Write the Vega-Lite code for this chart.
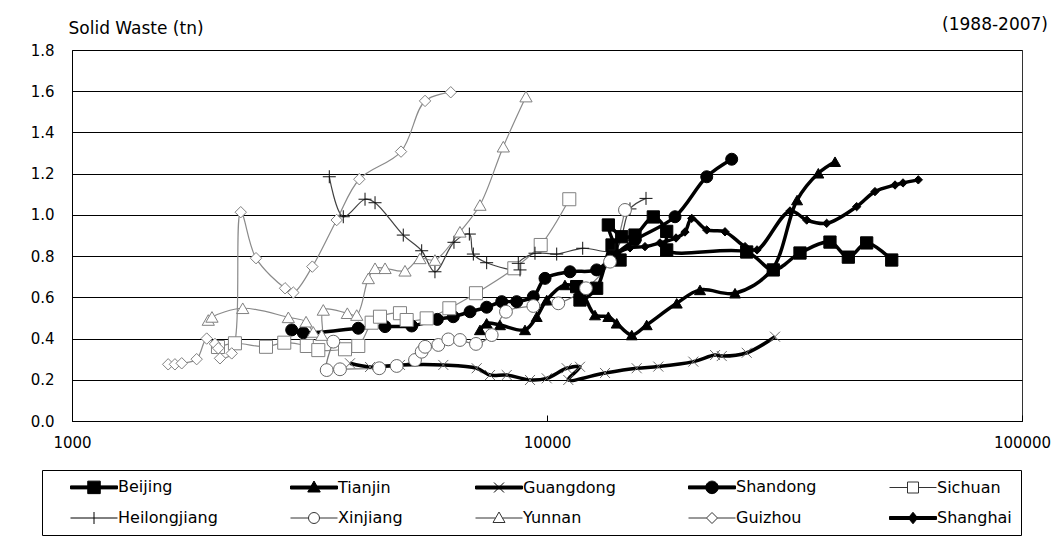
{
  "$schema": "https://vega.github.io/schema/vega-lite/v6.json",
  "width": 950,
  "height": 371,
  "autosize": "none",
  "padding": {"left": 72, "top": 50, "right": 41, "bottom": 115},
  "background": "white",
  "config": {
    "font": "DejaVu Sans",
    "view": {"stroke": "#333", "strokeWidth": 1},
    "axis": {"labelColor": "#000", "titleColor": "#000", "labelFontSize": 15, "titleFontSize": 17, "titleFontWeight": "normal"}
  },
  "title": {"text": "(1988-2007)", "anchor": "end", "frame": "group", "dx": 26, "dy": 15, "offset": 0, "fontSize": 17, "fontWeight": "normal", "color": "#000"},
  "data": {"values": [
    {"s":"Beijing","o":1,"g":11546,"w":0.652},
    {"s":"Beijing","o":2,"g":11734,"w":0.587},
    {"s":"Beijing","o":3,"g":12722,"w":0.644},
    {"s":"Beijing","o":4,"g":13706,"w":0.854},
    {"s":"Beijing","o":5,"g":14250,"w":0.781},
    {"s":"Beijing","o":6,"g":13463,"w":0.951},
    {"s":"Beijing","o":7,"g":14366,"w":0.894},
    {"s":"Beijing","o":8,"g":15320,"w":0.902},
    {"s":"Beijing","o":9,"g":16742,"w":0.99},
    {"s":"Beijing","o":10,"g":17865,"w":0.92},
    {"s":"Beijing","o":11,"g":17865,"w":0.83},
    {"s":"Beijing","o":12,"g":26330,"w":0.82},
    {"s":"Beijing","o":13,"g":29950,"w":0.733},
    {"s":"Beijing","o":14,"g":34090,"w":0.815},
    {"s":"Beijing","o":15,"g":39420,"w":0.868},
    {"s":"Beijing","o":16,"g":43090,"w":0.795},
    {"s":"Beijing","o":17,"g":47100,"w":0.864},
    {"s":"Beijing","o":18,"g":53180,"w":0.781},
    {"s":"Tianjin","o":1,"g":7226,"w":0.442},
    {"s":"Tianjin","o":2,"g":7464,"w":0.474},
    {"s":"Tianjin","o":3,"g":7961,"w":0.466},
    {"s":"Tianjin","o":4,"g":8989,"w":0.442},
    {"s":"Tianjin","o":5,"g":9513,"w":0.506},
    {"s":"Tianjin","o":6,"g":9986,"w":0.587},
    {"s":"Tianjin","o":7,"g":10910,"w":0.66},
    {"s":"Tianjin","o":8,"g":11734,"w":0.636},
    {"s":"Tianjin","o":9,"g":12620,"w":0.514},
    {"s":"Tianjin","o":10,"g":13463,"w":0.506},
    {"s":"Tianjin","o":11,"g":14022,"w":0.474},
    {"s":"Tianjin","o":12,"g":15082,"w":0.417},
    {"s":"Tianjin","o":13,"g":16214,"w":0.466},
    {"s":"Tianjin","o":14,"g":18755,"w":0.571},
    {"s":"Tianjin","o":15,"g":20995,"w":0.636},
    {"s":"Tianjin","o":16,"g":24880,"w":0.62},
    {"s":"Tianjin","o":17,"g":29720,"w":0.733},
    {"s":"Tianjin","o":18,"g":33610,"w":1.072},
    {"s":"Tianjin","o":19,"g":37260,"w":1.202},
    {"s":"Tianjin","o":20,"g":40400,"w":1.258},
    {"s":"Guangdong","o":1,"g":3848,"w":0.28},
    {"s":"Guangdong","o":2,"g":4241,"w":0.262},
    {"s":"Guangdong","o":3,"g":4903,"w":0.272},
    {"s":"Guangdong","o":4,"g":6049,"w":0.272},
    {"s":"Guangdong","o":5,"g":7112,"w":0.256},
    {"s":"Guangdong","o":6,"g":7586,"w":0.223},
    {"s":"Guangdong","o":7,"g":8226,"w":0.223},
    {"s":"Guangdong","o":8,"g":9209,"w":0.199},
    {"s":"Guangdong","o":9,"g":9986,"w":0.207},
    {"s":"Guangdong","o":10,"g":11002,"w":0.256},
    {"s":"Guangdong","o":11,"g":11734,"w":0.263},
    {"s":"Guangdong","o":12,"g":11087,"w":0.199},
    {"s":"Guangdong","o":13,"g":13248,"w":0.233},
    {"s":"Guangdong","o":14,"g":15445,"w":0.256},
    {"s":"Guangdong","o":15,"g":17152,"w":0.264},
    {"s":"Guangdong","o":16,"g":20324,"w":0.288},
    {"s":"Guangdong","o":17,"g":22585,"w":0.32},
    {"s":"Guangdong","o":18,"g":23330,"w":0.315},
    {"s":"Guangdong","o":19,"g":26330,"w":0.331},
    {"s":"Guangdong","o":20,"g":30200,"w":0.409},
    {"s":"Shandong","o":1,"g":2901,"w":0.442},
    {"s":"Shandong","o":2,"g":3069,"w":0.428},
    {"s":"Shandong","o":3,"g":4006,"w":0.45},
    {"s":"Shandong","o":4,"g":4561,"w":0.458},
    {"s":"Shandong","o":5,"g":5190,"w":0.461},
    {"s":"Shandong","o":6,"g":5876,"w":0.493},
    {"s":"Shandong","o":7,"g":6348,"w":0.506},
    {"s":"Shandong","o":8,"g":6887,"w":0.53},
    {"s":"Shandong","o":9,"g":7464,"w":0.552},
    {"s":"Shandong","o":10,"g":8029,"w":0.579},
    {"s":"Shandong","o":11,"g":8634,"w":0.579},
    {"s":"Shandong","o":12,"g":9359,"w":0.603},
    {"s":"Shandong","o":13,"g":9904,"w":0.692},
    {"s":"Shandong","o":14,"g":11180,"w":0.724},
    {"s":"Shandong","o":15,"g":12722,"w":0.733},
    {"s":"Shandong","o":16,"g":13706,"w":0.796},
    {"s":"Shandong","o":17,"g":15320,"w":0.878},
    {"s":"Shandong","o":18,"g":18600,"w":0.991},
    {"s":"Shandong","o":19,"g":21690,"w":1.185},
    {"s":"Shandong","o":20,"g":24480,"w":1.27},
    {"s":"Sichuan","o":1,"g":2029,"w":0.359},
    {"s":"Sichuan","o":2,"g":2203,"w":0.377},
    {"s":"Sichuan","o":3,"g":2561,"w":0.36},
    {"s":"Sichuan","o":4,"g":2798,"w":0.38},
    {"s":"Sichuan","o":5,"g":3121,"w":0.364},
    {"s":"Sichuan","o":6,"g":3300,"w":0.344},
    {"s":"Sichuan","o":7,"g":3756,"w":0.348},
    {"s":"Sichuan","o":8,"g":4006,"w":0.364},
    {"s":"Sichuan","o":9,"g":4274,"w":0.477},
    {"s":"Sichuan","o":10,"g":4450,"w":0.506},
    {"s":"Sichuan","o":11,"g":4903,"w":0.523},
    {"s":"Sichuan","o":12,"g":5065,"w":0.49},
    {"s":"Sichuan","o":13,"g":5581,"w":0.498},
    {"s":"Sichuan","o":14,"g":6229,"w":0.547},
    {"s":"Sichuan","o":15,"g":7087,"w":0.62},
    {"s":"Sichuan","o":16,"g":8535,"w":0.741},
    {"s":"Sichuan","o":17,"g":9699,"w":0.854},
    {"s":"Sichuan","o":18,"g":11141,"w":1.076},
    {"s":"Heilongjiang","o":1,"g":3481,"w":1.185},
    {"s":"Heilongjiang","o":2,"g":3725,"w":0.991},
    {"s":"Heilongjiang","o":3,"g":4139,"w":1.076},
    {"s":"Heilongjiang","o":4,"g":4345,"w":1.059},
    {"s":"Heilongjiang","o":5,"g":4982,"w":0.902},
    {"s":"Heilongjiang","o":6,"g":5447,"w":0.826},
    {"s":"Heilongjiang","o":7,"g":5809,"w":0.724},
    {"s":"Heilongjiang","o":8,"g":6370,"w":0.867},
    {"s":"Heilongjiang","o":9,"g":6863,"w":0.907},
    {"s":"Heilongjiang","o":10,"g":6997,"w":0.81},
    {"s":"Heilongjiang","o":11,"g":7464,"w":0.768},
    {"s":"Heilongjiang","o":12,"g":8774,"w":0.733},
    {"s":"Heilongjiang","o":13,"g":8701,"w":0.765},
    {"s":"Heilongjiang","o":14,"g":9434,"w":0.814},
    {"s":"Heilongjiang","o":15,"g":10481,"w":0.81},
    {"s":"Heilongjiang","o":16,"g":11889,"w":0.838},
    {"s":"Heilongjiang","o":17,"g":13906,"w":0.83},
    {"s":"Heilongjiang","o":18,"g":14952,"w":1.029},
    {"s":"Heilongjiang","o":19,"g":16160,"w":1.08},
    {"s":"Xinjiang","o":1,"g":3549,"w":0.385},
    {"s":"Xinjiang","o":2,"g":3437,"w":0.247},
    {"s":"Xinjiang","o":3,"g":3666,"w":0.251},
    {"s":"Xinjiang","o":4,"g":4435,"w":0.256},
    {"s":"Xinjiang","o":5,"g":4826,"w":0.267},
    {"s":"Xinjiang","o":6,"g":5274,"w":0.296},
    {"s":"Xinjiang","o":7,"g":5447,"w":0.336},
    {"s":"Xinjiang","o":8,"g":5537,"w":0.36},
    {"s":"Xinjiang","o":9,"g":5904,"w":0.369},
    {"s":"Xinjiang","o":10,"g":6197,"w":0.396},
    {"s":"Xinjiang","o":11,"g":6558,"w":0.393},
    {"s":"Xinjiang","o":12,"g":7087,"w":0.374},
    {"s":"Xinjiang","o":13,"g":7649,"w":0.417},
    {"s":"Xinjiang","o":14,"g":8196,"w":0.53},
    {"s":"Xinjiang","o":15,"g":9359,"w":0.558},
    {"s":"Xinjiang","o":16,"g":10563,"w":0.571},
    {"s":"Xinjiang","o":17,"g":12080,"w":0.644},
    {"s":"Xinjiang","o":18,"g":13573,"w":0.773},
    {"s":"Xinjiang","o":19,"g":14594,"w":1.024},
    {"s":"Yunnan","o":1,"g":1936,"w":0.49},
    {"s":"Yunnan","o":2,"g":1971,"w":0.505},
    {"s":"Yunnan","o":3,"g":2288,"w":0.547},
    {"s":"Yunnan","o":4,"g":2854,"w":0.503},
    {"s":"Yunnan","o":5,"g":3110,"w":0.482},
    {"s":"Yunnan","o":6,"g":3221,"w":0.432},
    {"s":"Yunnan","o":7,"g":3355,"w":0.417},
    {"s":"Yunnan","o":8,"g":3381,"w":0.539},
    {"s":"Yunnan","o":9,"g":3799,"w":0.523},
    {"s":"Yunnan","o":10,"g":3976,"w":0.514},
    {"s":"Yunnan","o":11,"g":4206,"w":0.692},
    {"s":"Yunnan","o":12,"g":4345,"w":0.741},
    {"s":"Yunnan","o":13,"g":4561,"w":0.741},
    {"s":"Yunnan","o":14,"g":5024,"w":0.729},
    {"s":"Yunnan","o":15,"g":5402,"w":0.789},
    {"s":"Yunnan","o":16,"g":5809,"w":0.781},
    {"s":"Yunnan","o":17,"g":6558,"w":0.918},
    {"s":"Yunnan","o":18,"g":7226,"w":1.048},
    {"s":"Yunnan","o":19,"g":8091,"w":1.331},
    {"s":"Yunnan","o":20,"g":9032,"w":1.574},
    {"s":"Guizhou","o":1,"g":1594,"w":0.275},
    {"s":"Guizhou","o":2,"g":1647,"w":0.275},
    {"s":"Guizhou","o":3,"g":1702,"w":0.28},
    {"s":"Guizhou","o":4,"g":1830,"w":0.3},
    {"s":"Guizhou","o":5,"g":1921,"w":0.4},
    {"s":"Guizhou","o":6,"g":2000,"w":0.374},
    {"s":"Guizhou","o":7,"g":2032,"w":0.353},
    {"s":"Guizhou","o":8,"g":2049,"w":0.304},
    {"s":"Guizhou","o":9,"g":2169,"w":0.328},
    {"s":"Guizhou","o":10,"g":2266,"w":1.013},
    {"s":"Guizhou","o":11,"g":2440,"w":0.79},
    {"s":"Guizhou","o":12,"g":2809,"w":0.644},
    {"s":"Guizhou","o":13,"g":2924,"w":0.623},
    {"s":"Guizhou","o":14,"g":3206,"w":0.749},
    {"s":"Guizhou","o":15,"g":3608,"w":0.975},
    {"s":"Guizhou","o":16,"g":4026,"w":1.173},
    {"s":"Guizhou","o":17,"g":4928,"w":1.307},
    {"s":"Guizhou","o":18,"g":5537,"w":1.553},
    {"s":"Guizhou","o":19,"g":6271,"w":1.595},
    {"s":"Shanghai","o":1,"g":14040,"w":0.815},
    {"s":"Shanghai","o":2,"g":14952,"w":0.84},
    {"s":"Shanghai","o":3,"g":16080,"w":0.846},
    {"s":"Shanghai","o":4,"g":17290,"w":0.864},
    {"s":"Shanghai","o":5,"g":18690,"w":0.888},
    {"s":"Shanghai","o":6,"g":19520,"w":0.917},
    {"s":"Shanghai","o":7,"g":20170,"w":0.983},
    {"s":"Shanghai","o":8,"g":21690,"w":0.927},
    {"s":"Shanghai","o":9,"g":23700,"w":0.918},
    {"s":"Shanghai","o":10,"g":26120,"w":0.846},
    {"s":"Shanghai","o":11,"g":27680,"w":0.83},
    {"s":"Shanghai","o":12,"g":32480,"w":1.019},
    {"s":"Shanghai","o":13,"g":35220,"w":0.975},
    {"s":"Shanghai","o":14,"g":38800,"w":0.959},
    {"s":"Shanghai","o":15,"g":44870,"w":1.04},
    {"s":"Shanghai","o":16,"g":49030,"w":1.113},
    {"s":"Shanghai","o":17,"g":54040,"w":1.145},
    {"s":"Shanghai","o":18,"g":56170,"w":1.155},
    {"s":"Shanghai","o":19,"g":60490,"w":1.17}
  ]},
  "encoding": {
    "x": {"field": "g", "type": "quantitative",
      "scale": {"type": "log", "domain": [1000, 100000], "nice": false},
      "axis": {"title": null, "values": [1000, 10000, 100000], "format": "d", "grid": false, "domainColor": "#000", "tickColor": "#000", "tickSize": -6, "labelPadding": 20, "labelFlush": false, "labelOverlap": false}},
    "y": {"field": "w", "type": "quantitative",
      "scale": {"domain": [0, 1.8], "nice": false, "zero": false},
      "axis": {"title": "Solid Waste (tn)", "titleAngle": 0, "titleAlign": "left", "titleBaseline": "alphabetic", "titleX": -4, "titleY": -17, "values": [0, 0.2, 0.4, 0.6, 0.8, 1.0, 1.2, 1.4, 1.6, 1.8], "format": ".1f", "ticks": false, "labelPadding": 18, "grid": true, "gridColor": "#000", "gridWidth": 1, "gridOpacity": 1, "domainColor": "#000"}}
  },
  "resolve": {"scale": {"shape": "independent", "fill": "independent", "stroke": "independent", "size": "independent"}},
  "layer": [
    {
      "transform": [{"filter": {"field": "s", "oneOf": ["Sichuan", "Heilongjiang", "Xinjiang", "Yunnan", "Guizhou"]}}],
      "mark": {"type": "line", "interpolate": "catmull-rom", "strokeWidth": 1.2},
      "encoding": {
        "detail": {"field": "s"},
        "order": {"field": "o", "type": "quantitative"},
        "color": {"field": "s", "type": "nominal", "legend": null,
          "scale": {"domain": ["Shanghai","Guizhou","Yunnan","Xinjiang","Heilongjiang","Sichuan","Shandong","Guangdong","Tianjin","Beijing"],
                    "range": ["#000","#8a8a8a","#8a8a8a","#7a7a7a","#404040","#8a8a8a","#000","#000","#000","#000"]}}
      }
    },
    {
      "transform": [{"filter": {"field": "s", "oneOf": ["Beijing", "Tianjin", "Guangdong", "Shandong", "Shanghai"]}}],
      "mark": {"type": "line", "interpolate": "catmull-rom", "strokeWidth": 3.5},
      "encoding": {
        "detail": {"field": "s"},
        "order": {"field": "o", "type": "quantitative"},
        "color": {"field": "s", "type": "nominal", "legend": null}
      }
    },
    {
      "mark": {"type": "point", "filled": true, "opacity": 1, "strokeWidth": 1},
      "encoding": {
        "shape": {"field": "s", "type": "nominal", "legend": null,
          "scale": {"domain": ["Shanghai","Guizhou","Yunnan","Xinjiang","Heilongjiang","Sichuan","Shandong","Guangdong","Tianjin","Beijing"],
                    "range": ["diamond","diamond","triangle-up","circle","M-1,0H1M0,-1V1","square","circle","M-1,-1L1,1M-1,1L1,-1","triangle-up","square"]}},
        "fill": {"field": "s", "type": "nominal", "legend": null,
          "scale": {"domain": ["Shanghai","Guizhou","Yunnan","Xinjiang","Heilongjiang","Sichuan","Shandong","Guangdong","Tianjin","Beijing"],
                    "range": ["#000","#fff","#fff","#fff","transparent","#fff","#000","transparent","#000","#000"]}},
        "stroke": {"field": "s", "type": "nominal", "legend": null,
          "scale": {"domain": ["Shanghai","Guizhou","Yunnan","Xinjiang","Heilongjiang","Sichuan","Shandong","Guangdong","Tianjin","Beijing"],
                    "range": ["#000","#808080","#808080","#666","#111","#808080","#000","#6a6a6a","#000","#000"]}},
        "size": {"field": "s", "type": "nominal", "legend": null,
          "scale": {"type": "ordinal", "domain": ["Shanghai","Guizhou","Yunnan","Xinjiang","Heilongjiang","Sichuan","Shandong","Guangdong","Tianjin","Beijing"],
                    "range": [70, 130, 150, 165, 169, 170, 144, 100, 121, 150]}}
      }
    },
    {
      "mark": {"type": "point", "filled": true, "opacity": 0, "strokeWidth": 1},
      "encoding": {
        "shape": {"field": "s", "type": "nominal",
          "scale": {"domain": ["Beijing","Tianjin","Guangdong","Shandong","Sichuan","Heilongjiang","Xinjiang","Yunnan","Guizhou","Shanghai"],
                    "range": [
                      "M-4.7,-0.3H4.7V0.3H-4.7ZM-1.25,-1.25H1.25V1.25H-1.25Z",
                      "M-4.7,-0.3H4.7V0.3H-4.7ZM0,-1.3L1.25,0.9H-1.25Z",
                      "M-4.7,-0.3H4.7V0.3H-4.7ZM-1,-1L1,1M-1,1L1,-1",
                      "M-4.7,-0.3H4.7V0.3H-4.7ZM1.25,0A1.25,1.25,0,1,1,-1.25,0A1.25,1.25,0,1,1,1.25,0Z",
                      "M-4.7,0H-1.1M1.1,0H4.7M-1.1,-1.1H1.1V1.1H-1.1Z",
                      "M-4.7,0H4.7M0,-1.2V1.2",
                      "M-4.7,0H-1.1M1.1,0H4.7M1.1,0A1.1,1.1,0,1,1,-1.1,0A1.1,1.1,0,1,1,1.1,0Z",
                      "M-4.7,0H-0.7M0.7,0H4.7M0,-1.2L1.2,0.9H-1.2Z",
                      "M-4.7,0H-1.1M1.1,0H4.7M0,-1.1L1.1,0L0,1.1L-1.1,0Z",
                      "M-4.7,-0.3H4.7V0.3H-4.7ZM0,-1.15L0.95,0L0,1.15L-0.95,0Z"
                    ]},
          "legend": {
            "title": null, "orient": "none", "legendX": -30, "legendY": 420,
            "direction": "horizontal", "columns": 5, "gridAlign": "each",
            "symbolSize": 100, "symbolOffset": 35, "labelOffset": 16,
            "symbolOpacity": 1, "symbolStrokeWidth": 1,
            "columnPadding": 53, "rowPadding": 14, "padding": 9,
            "strokeColor": "#000", "fillColor": "#fff",
            "labelFontSize": 16, "labelColor": "#000", "labelLimit": 200
          }},
        "fill": {"field": "s", "type": "nominal",
          "scale": {"domain": ["Beijing","Tianjin","Guangdong","Shandong","Sichuan","Heilongjiang","Xinjiang","Yunnan","Guizhou","Shanghai"],
                    "range": ["#000","#000","#000","#000","#fff","#000","#fff","#fff","#fff","#000"]}},
        "stroke": {"field": "s", "type": "nominal",
          "scale": {"domain": ["Beijing","Tianjin","Guangdong","Shandong","Sichuan","Heilongjiang","Xinjiang","Yunnan","Guizhou","Shanghai"],
                    "range": ["#000","#000","#000","#000","#333","#000","#333","#333","#333","#000"]}}
      }
    }
  ]
}
